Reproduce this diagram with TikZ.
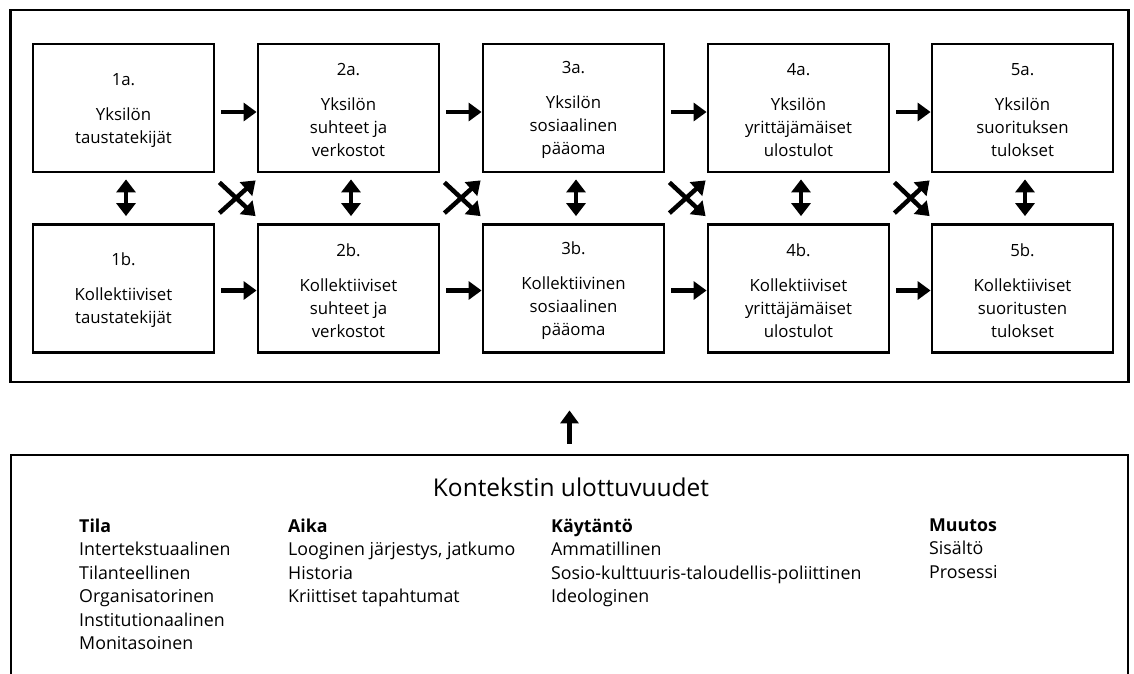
\documentclass[tikz,border=0pt]{standalone}
\usepackage{fontspec}
\setmainfont{Open Sans}
\usetikzlibrary{arrows.meta,calc}
\begin{document}
\begin{tikzpicture}[x=1pt,y=-1pt,
 box/.style={draw, line width=2.8pt, minimum width=181pt, minimum height=128pt, align=center, font=\fontsize{16.8}{23}\selectfont, inner sep=0pt},
 arr/.style={line width=4.5pt, -{Triangle[length=13pt,width=18pt]}},
 darr/.style={line width=4.5pt, {Triangle[length=13pt,width=19pt]}-{Triangle[length=13pt,width=19pt]}},
 frame/.style={draw, line width=2.8pt, inner sep=0pt},
 col/.style={anchor=north west, inner sep=0pt, align=left, font=\fontsize{17.8}{23.5}\selectfont}
]
\useasboundingbox (0,0) rectangle (1134,673);
\clip (0,0) rectangle (1134,673);
\node[frame, minimum width=1118pt, minimum height=372pt] (top) at (569.5,196) {};
% top row
\node[box] (a1) at (123.5,108) {\rule{0pt}{17pt}1a.\\[12pt]Yksilön\\taustatekijät};
\node[box] (a2) at (348.5,108) {\rule{0pt}{17pt}2a.\\[12pt]Yksilön\\suhteet ja\\verkostot};
\node[box] (a3) at (573.5,108) {\rule{0pt}{17pt}3a.\\[12pt]Yksilön\\sosiaalinen\\pääoma};
\node[box] (a4) at (798.5,108) {\rule{0pt}{17pt}4a.\\[12pt]Yksilön\\yrittäjämäiset\\ulostulot};
\node[box] (a5) at (1022.5,108) {\rule{0pt}{17pt}5a.\\[12pt]Yksilön\\suorituksen\\tulokset};
% bottom row
\node[box] (b1) at (123.5,288.5) {\rule{0pt}{17pt}1b.\\[12pt]Kollektiiviset\\taustatekijät};
\node[box] (b2) at (348.5,288.5) {\rule{0pt}{17pt}2b.\\[12pt]Kollektiiviset\\suhteet ja\\verkostot};
\node[box] (b3) at (573.5,288.5) {\rule{0pt}{17pt}3b.\\[12pt]Kollektiivinen\\sosiaalinen\\pääoma};
\node[box] (b4) at (798.5,288.5) {\rule{0pt}{17pt}4b.\\[12pt]Kollektiiviset\\yrittäjämäiset\\ulostulot};
\node[box] (b5) at (1022.5,288.5) {\rule{0pt}{17pt}5b.\\[12pt]Kollektiiviset\\suoritusten\\tulokset};
% horizontal and crossing arrows
\foreach \i/\j in {1/2,2/3,3/4,4/5}{
  \draw[arr, shorten <=6pt] ([yshift=-4pt]a\i.east) -- ([yshift=-4pt]a\j.west);
  \draw[arr, shorten <=6pt] ([yshift=-2pt]b\i.east) -- ([yshift=-2pt]b\j.west);
  \draw[arr] ($(a\i.south east)+(4,9)$) -- ($(b\j.north west)+(-1,-7)$);
  \draw[arr] ($(b\i.north east)+(4,-10)$) -- ($(a\j.south west)+(-1,7)$);
}
% vertical double arrows
\foreach \i in {1,...,5}{
  \draw[darr, shorten <=6pt, shorten >=7pt] ([xshift=2.5pt]a\i.south) -- ([xshift=2.5pt]b\i.north);
}
% context box
\node[frame, minimum width=1117pt, minimum height=240pt] (ctx) at (569.5,575) {};
\draw[arr, shorten <=10pt, shorten >=27pt] (ctx) -- (top);
\node[font=\fontsize{24.5}{28}\selectfont] (title) at (571,487) {Kontekstin ulottuvuudet};
\node[col] (c1) at (79,518.5) {\textbf{Tila}\\Intertekstuaalinen\\Tilanteellinen\\Organisatorinen\\Institutionaalinen\\Monitasoinen};
\node[col] (c2) at (288,518.5) {\textbf{Aika}\\Looginen järjestys, jatkumo\\Historia\\Kriittiset tapahtumat};
\node[col] (c3) at (551,518.5) {\textbf{Käytäntö}\\Ammatillinen\\Sosio-kulttuuris-taloudellis-poliittinen\\Ideologinen};
\node[col] (c4) at (929,518.5) {\textbf{Muutos}\\Sisältö\\Prosessi};
\end{tikzpicture}
\end{document}
